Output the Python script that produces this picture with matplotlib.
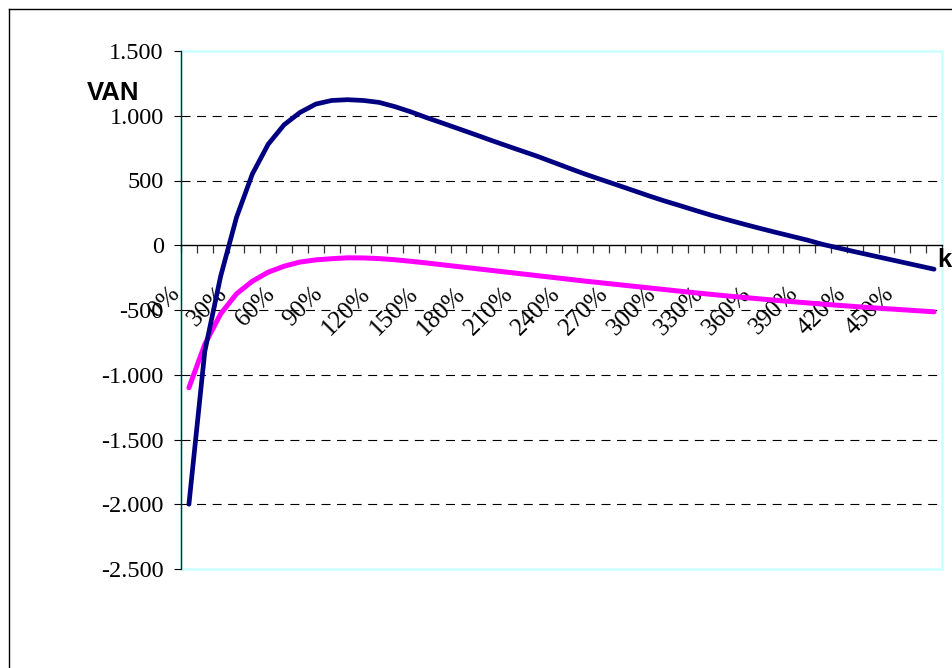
import matplotlib
matplotlib.use("Agg")
import matplotlib.pyplot as plt
from matplotlib.lines import Line2D
from matplotlib.patches import Rectangle
from matplotlib.ticker import FixedLocator, FuncFormatter, NullFormatter
import matplotlib.transforms as mtransforms

# Discount rates (k) in percent, one category every 10 %
rates = list(range(0, 480, 10))

# Net present value (VAN) of the two projects at each rate
van_a = [-2000, -820, -240, 215, 550, 780, 930, 1025, 1090, 1118,
         1124, 1118, 1103, 1070, 1030, 985, 943, 900, 857, 813,
         770, 728, 686, 640, 594, 549, 507, 466, 424, 382,
         342, 305, 267, 230, 196, 163, 131, 100, 70, 40,
         6, -22, -50, -77, -104, -131, -158, -185]
van_b = [-1100, -765, -530, -375, -278, -208, -162, -130, -113, -104,
         -97, -98, -103, -112, -124, -137, -151, -165, -179, -193,
         -207, -221, -235, -249, -263, -277, -290, -303, -316, -329,
         -342, -355, -368, -380, -392, -403, -414, -425, -435, -445,
         -455, -464, -473, -482, -490, -498, -506, -514]

# Labelled rates on the category axis
label_rates = list(range(0, 460, 30))
y_ticks = [1500, 1000, 500, 0, -500, -1000, -1500, -2000, -2500]
grid_values = [1000, 500, -500, -1000, -1500, -2000]

plt.rcParams["lines.scale_dashes"] = False
serif = ["Liberation Serif", "DejaVu Serif"]
sans = ["Liberation Sans", "DejaVu Sans"]

W, H = 952, 668
fig = plt.figure(figsize=(W / 100, H / 100), dpi=100)
fig.patch.set_facecolor("white")

# Outer chart border (extends past the right and bottom edges)
fig.add_artist(Line2D([8.5 / W, 8.5 / W], [1 - 8.5 / H, 0], transform=fig.transFigure,
                      color="black", lw=1.0))
fig.add_artist(Line2D([8.5 / W, 1], [1 - 8.5 / H, 1 - 8.5 / H], transform=fig.transFigure,
                      color="black", lw=1.0))

left, right, top, bottom = 181, 942, 51, 569
ax = fig.add_axes([left / W, 1 - bottom / H, (right - left) / W, (bottom - top) / H])
ax.set_facecolor("white")

x = list(range(len(rates)))
ax.set_xlim(-0.5, len(rates) - 0.5)
ax.set_ylim(-2500, 1500)

# Plot-area border
ax.add_patch(Rectangle((0, 0), 1, 1, transform=ax.transAxes, fill=False,
                       edgecolor="#CCFFFF", lw=1.8, zorder=0.5, clip_on=False))
for s in ("top", "right"):
    ax.spines[s].set_visible(False)
ax.spines["left"].set_color("#0B2F2F")
ax.spines["left"].set_linewidth(1.0)
ax.spines["bottom"].set_position(("data", 0))
ax.spines["bottom"].set_color("black")
ax.spines["bottom"].set_linewidth(1.0)
ax.spines["bottom"].set_zorder(2.5)

# Dashed horizontal gridlines
ax.hlines(grid_values, -0.5, len(rates) - 0.5, colors="black", linewidth=0.8,
          linestyles=[(0, (6.5, 4.7))], zorder=1)

# Value axis
ax.yaxis.set_major_locator(FixedLocator(y_ticks))
ax.yaxis.set_major_formatter(FuncFormatter(
    lambda v, p: ("-" if v < 0 else "") + f"{abs(int(v)):,}".replace(",", ".")))
ax.tick_params(axis="y", direction="out", length=5, width=0.8, color="black",
               pad=7.5, labelsize=17.5)
for lab in ax.get_yticklabels():
    lab.set_fontfamily(serif)

# Category axis: tick marks on category boundaries
ax.xaxis.set_major_locator(FixedLocator([i - 0.5 for i in range(len(rates) + 1)]))
ax.xaxis.set_major_formatter(NullFormatter())
ax.tick_params(axis="x", direction="out", length=5.5, width=0.9, color="#333333")

offset = mtransforms.ScaledTranslation(-20 / 100, -37 / 100, fig.dpi_scale_trans)
for r in label_rates:
    i = rates.index(r)
    ax.text(i, 0, f"{r}%", transform=ax.transData + offset, rotation=45,
            rotation_mode="anchor", ha="right", va="top", fontsize=18,
            family=serif, color="black", zorder=3)

# Series
ax.plot(x, van_a, color="#000080", lw=3.4, solid_joinstyle="round",
        solid_capstyle="round", zorder=4)
ax.plot(x, van_b, color="#FF00FF", lw=3.6, solid_joinstyle="round",
        solid_capstyle="round", zorder=3.5)

# Axis titles
fig.text(113 / W, 1 - 92.5 / H, "VAN", ha="center", va="center", fontsize=18.5,
         fontweight="bold", family=sans)
fig.text(937 / W, 1 - 267 / H, "k", ha="left", va="baseline", fontsize=18.5,
         fontweight="bold", family=sans)

fig.savefig("out.png", dpi=100)
